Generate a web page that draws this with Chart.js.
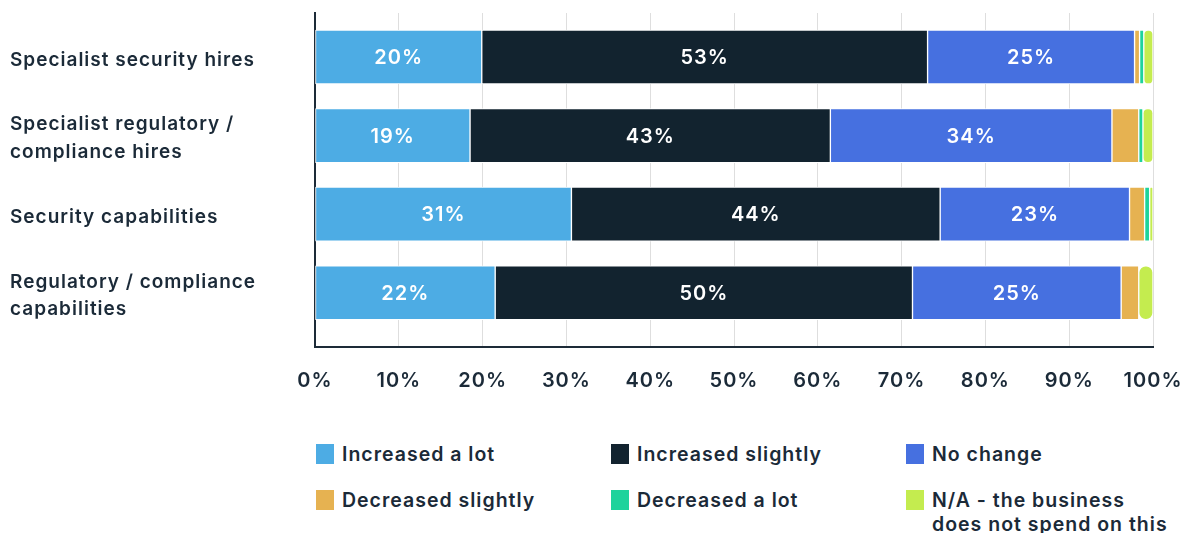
<!DOCTYPE html>
<html>
<head>
<meta charset="utf-8">
<script src="https://cdn.jsdelivr.net/npm/chart.js@4.4.0/dist/chart.umd.min.js"></script>
<style>
  body { margin: 0; background: #fff; }
  #wrap { position: relative; width: 1186px; height: 533px; font-family: Inter, sans-serif; color: #1b2a38; }
  #chartBox { position: absolute; left: 0; top: 0; width: 1186px; height: 400px; }
  #legend { position: absolute; left: 316px; top: 442px; display: grid; grid-template-columns: 295px 295px 295px; row-gap: 22px; }
  .item { display: flex; align-items: flex-start; font-size: 19.5px; font-weight: 600; line-height: 24px; letter-spacing: 1px; }
  .sw { width: 18px; height: 20px; margin-top: 2px; margin-right: 8px; flex: none; }
</style>
</head>
<body>
<div id="wrap">
  <div id="chartBox"><canvas id="barC"></canvas></div>
  <div id="legend"></div>
</div>
<script>
var categories = [
    ['Specialist security hires'],
    ['Specialist regulatory /', 'compliance hires'],
    ['Security capabilities'],
    ['Regulatory / compliance', 'capabilities']
];
var seriesNames = ['Increased a lot', 'Increased slightly', 'No change', 'Decreased slightly', 'Decreased a lot', 'N/A - the business does not spend on this'];
var legendLines = [['Increased a lot'], ['Increased slightly'], ['No change'], ['Decreased slightly'], ['Decreased a lot'], ['N/A - the business', 'does not spend on this']];
var colors = ['#4dace4', '#12232f', '#4670e0', '#e6b251', '#1ed39c', '#c4ec4f'];

var increasedLot = [19.9, 18.5, 30.6, 21.5];
var increasedSlightly = [53.2, 43.0, 44.0, 49.8];
var noChange = [24.7, 33.6, 22.6, 24.9];
var decreasedSlightly = [0.6, 3.2, 1.8, 2.1];
var decreasedLot = [0.5, 0.5, 0.6, 0];
var notApplicable = [1.1, 1.2, 0.4, 1.7];

var tickValues = [0, 10, 20, 30, 40, 50, 60, 70, 80, 90, 100];

var allSeries = [increasedLot, increasedSlightly, noChange, decreasedSlightly, decreasedLot, notApplicable];
var labelled = [0, 1, 2]; // only the big segments carry a % label

var inkColor = '#1b2a38';
var fontFam = 'Inter, sans-serif';

var datasets = allSeries.map(function (vals, k) {
    return {
        label: seriesNames[k],
        data: vals.map(function (v, i) { return { x: v, y: i }; }),
        backgroundColor: colors[k],
        borderColor: '#ffffff',
        borderWidth: 1,
        borderRadius: 8,
        borderSkipped: false,
        barThickness: 54
    };
});

// the reference font is wider than Inter, so spread the letters a bit
var spacing = {
    id: 'spacing',
    beforeUpdate: function (chart) { chart.ctx.letterSpacing = '1px'; },
    beforeDraw: function (chart) { chart.ctx.letterSpacing = '1px'; }
};

// white % labels in the middle of the segments
var segLabels = {
    id: 'segLabels',
    afterDatasetsDraw: function (chart) {
        var ctx = chart.ctx;
        ctx.save();
        ctx.fillStyle = '#ffffff';
        ctx.font = '600 20px ' + fontFam;
        ctx.textAlign = 'center';
        ctx.textBaseline = 'middle';
        labelled.forEach(function (k) {
            chart.getDatasetMeta(k).data.forEach(function (el, i) {
                var p = el.getCenterPoint();
                ctx.fillText(Math.round(allSeries[k][i]) + '%', p.x, p.y + 1);
            });
        });
        ctx.restore();
    }
};

new Chart(document.getElementById('barC'), {
    type: 'bar',
    data: { datasets: datasets },
    plugins: [spacing, segLabels],
    options: {
        indexAxis: 'y',
        responsive: true,
        maintainAspectRatio: false,
        animation: false,
        layout: { padding: { left: 10, top: 13, right: 33, bottom: 0 } },
        plugins: { legend: { display: false }, tooltip: { enabled: false } },
        scales: {
            x: {
                stacked: true,
                min: 0,
                max: 100,
                afterBuildTicks: function (s) { s.ticks = tickValues.map(function (v) { return { value: v }; }); },
                afterFit: function (s) { s.height = 53; s.paddingLeft = 0; s.paddingRight = 0; },
                grid: { color: '#dedede', lineWidth: 1, drawTicks: false },
                border: { color: '#1d2b38', width: 2 },
                ticks: {
                    padding: 22,
                    color: inkColor,
                    font: { family: fontFam, size: 20, weight: '600' },
                    maxRotation: 0,
                    callback: function (v) { return v + '%'; }
                }
            },
            y: {
                type: 'linear',
                stacked: true,
                reverse: true,
                offset: false,
                min: -0.56,
                max: 3.69,
                afterBuildTicks: function (s) { s.ticks = categories.map(function (c, i) { return { value: i }; }); },
                afterFit: function (s) { s.width = 305; s.paddingTop = 0; s.paddingBottom = 0; },
                grid: { display: false, offset: false },
                border: { color: '#1d2b38', width: 2 },
                ticks: {
                    crossAlign: 'far',
                    labelOffset: 3,
                    color: inkColor,
                    font: { family: fontFam, size: 19, weight: '600', lineHeight: 1.47 },
                    callback: function (v) { return categories[v]; }
                }
            }
        }
    }
});

// legend in three columns
var leg = document.getElementById('legend');
legendLines.forEach(function (lines, k) {
    var it = document.createElement('div');
    it.className = 'item';
    var sw = document.createElement('div');
    sw.className = 'sw';
    sw.style.background = colors[k];
    var tx = document.createElement('div');
    tx.innerHTML = lines.join('<br>');
    it.appendChild(sw);
    it.appendChild(tx);
    leg.appendChild(it);
});
</script>
</body>
</html>
